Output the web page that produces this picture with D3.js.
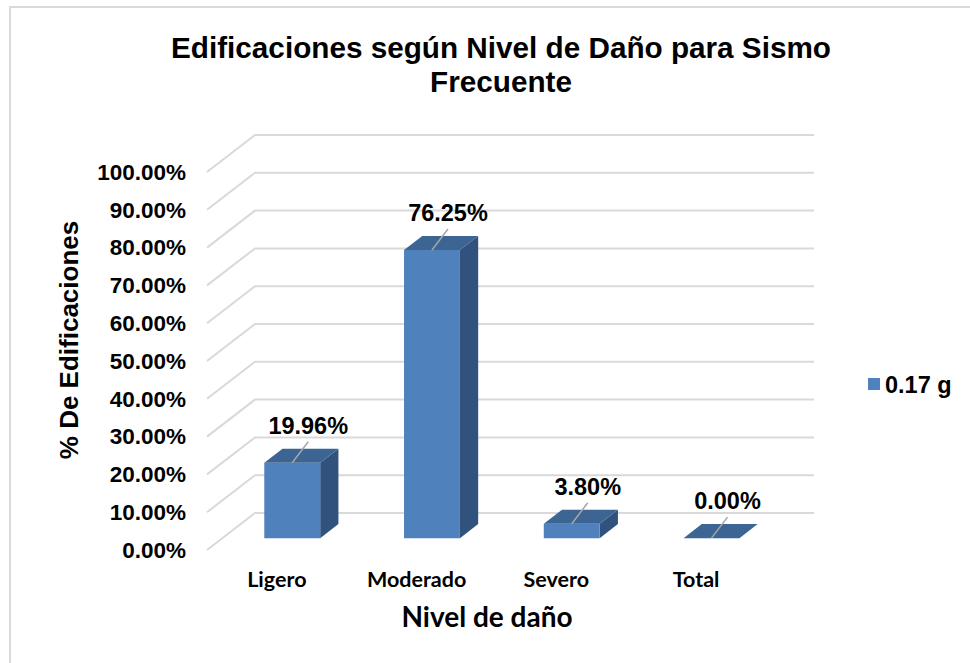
<!DOCTYPE html>
<html><head><meta charset="utf-8">
<script src="https://cdn.jsdelivr.net/npm/d3@7"></script>
<style>body{margin:0;background:#fff}</style>
</head><body><svg id="c" width="970" height="663"></svg>
<script>
const categories = ["Ligero", "Moderado", "Severo", "Total"];
const values = [19.96, 76.25, 3.80, 0.00];
const yTicks = [0, 10, 20, 30, 40, 50, 60, 70, 80, 90, 100];
const seriesName = "0.17 g";
const titleLines = ["Edificaciones según Nivel de Daño para Sismo", "Frecuente"];
const yTitle = "% De Edificaciones";
const xTitle = "Nivel de daño";

const svg = d3.select("#c");
const DX = 48, DY = -37;          // depth vector of the 3D box
const d0 = 0.32, d1 = 0.70;       // bar depth extent
const colFront = "#4F81BD", colTop = "#3D6593", colSide = "#30527C";
const gridCol = "#d9d9d9";
const arial = "'Liberation Sans', Arial, sans-serif";
const calibri = "Lato, 'Open Sans', sans-serif";

const x = d3.scaleBand().domain(categories).range([207, 766]).padding(0);
const y = d3.scaleLinear().domain([0, 100]).range([550, 172]);
const proj = (xf, v, d) => [xf + d * DX, y(v) + d * DY];

// outer border
svg.append("rect").attr("x", 10).attr("y", 7).attr("width", 990).attr("height", 700)
  .attr("fill", "none").attr("stroke", gridCol).attr("stroke-width", 2);

// title
svg.append("text").attr("x", 501).attr("y", 58).attr("text-anchor", "middle")
  .attr("font-family", arial).attr("font-weight", "bold").attr("font-size", 29.7)
  .selectAll("tspan").data(titleLines).join("tspan")
  .attr("x", 501).attr("dy", (d, i) => i ? 34 : 0).text(d => d);

// gridlines (floor-side diagonal + back wall)
const [x0, x1] = x.range();
const g = svg.append("g");
yTicks.forEach(t => {
  const a = proj(x0, t, 0), b = proj(x0, t, 1), c = proj(x1, t, 1);
  g.append("path").attr("d", d3.line()([a, b, c]))
    .attr("fill", "none").attr("stroke", gridCol).attr("stroke-width", 2);
});

// y tick labels
svg.append("g").selectAll("text").data(yTicks).join("text")
  .attr("x", 186).attr("y", d => y(d)).attr("dy", "0.35em")
  .attr("text-anchor", "end").attr("font-family", arial).attr("font-weight", "bold")
  .attr("font-size", 22.5).text(d => d3.format(".2f")(d) + "%");

// bars
const bw = x.bandwidth() * 0.4;
const bars = svg.append("g");
categories.forEach((cat, i) => {
  const v = values[i];
  const cx = x(cat) + x.bandwidth() / 2;
  const L = cx - bw / 2, R = cx + bw / 2;
  const poly = pts => d3.line()(pts) + "Z";
  if (v > 0) {
    bars.append("path").attr("d", poly([proj(R, 0, d0), proj(R, 0, d1), proj(R, v, d1), proj(R, v, d0)]))
      .attr("fill", colSide);
    bars.append("path").attr("d", poly([proj(L, 0, d0), proj(R, 0, d0), proj(R, v, d0), proj(L, v, d0)]))
      .attr("fill", colFront);
  }
  bars.append("path").attr("d", poly([proj(L, v, d0), proj(R, v, d0), proj(R, v, d1), proj(L, v, d1)]))
    .attr("fill", colTop);
  // leader line + data label
  const p = proj(cx, v, d0);
  const e = [p[0] + 16, p[1] - 21];
  bars.append("line").attr("x1", p[0]).attr("y1", p[1]).attr("x2", e[0]).attr("y2", e[1])
    .attr("stroke", "#a6a6a6").attr("stroke-width", 1.5);
  bars.append("text").attr("x", e[0]).attr("y", e[1] - 8).attr("text-anchor", "middle")
    .attr("font-family", arial).attr("font-weight", "bold").attr("font-size", 23.5)
    .text(d3.format(".2f")(v) + "%");
});

// x category labels
svg.append("g").selectAll("text").data(categories).join("text")
  .attr("x", d => x(d) + x.bandwidth() / 2).attr("y", 587).attr("text-anchor", "middle")
  .attr("font-family", calibri).attr("font-weight", "bold").attr("font-size", 21.5).text(d => d);

// axis titles
svg.append("text").attr("x", 487).attr("y", 627).attr("text-anchor", "middle")
  .attr("font-family", calibri).attr("font-weight", "bold").attr("font-size", 28).text(xTitle);
svg.append("text").attr("transform", "translate(78,340) rotate(-90)").attr("text-anchor", "middle")
  .attr("font-family", arial).attr("font-weight", "bold").attr("font-size", 26).text(yTitle);

// legend
svg.append("rect").attr("x", 868).attr("y", 378).attr("width", 12).attr("height", 12).attr("fill", colFront);
svg.append("text").attr("x", 885).attr("y", 393).attr("font-family", arial)
  .attr("font-weight", "bold").attr("font-size", 23.5).text(seriesName);
</script></body></html>
